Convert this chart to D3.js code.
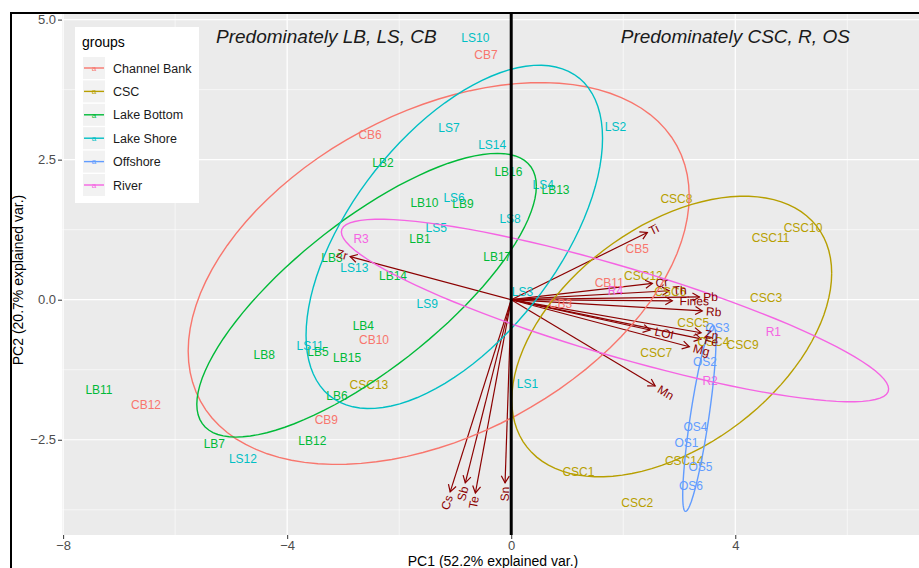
<!DOCTYPE html>
<html>
<head>
<meta charset="utf-8">
<script src="https://cdn.jsdelivr.net/npm/d3@7"></script>
<style>
	body { margin: 0; background: #fff; }
	text { font-family: "Liberation Sans", Arial, sans-serif; }
</style>
</head>
<body>
<div id="chart"></div>
<script>
//Groups and their colours (ggplot hue palette)
var groupNames = ["Channel Bank", "CSC", "Lake Bottom", "Lake Shore", "Offshore", "River"];
var groupColors = ["#F8766D", "#B79F00", "#00BA38", "#00BFC4", "#619CFF", "#F564E3"];

//Sample scores
var sampleNames = [
	"CB3", "CB5", "CB6", "CB7", "CB9", "CB10", "CB11", "CB12",
	"CSC1", "CSC2", "CSC3", "CSC4", "CSC5", "CSC6", "CSC7", "CSC8", "CSC9", "CSC10", "CSC11", "CSC12", "CSC13", "CSC14",
	"LB1", "LB2", "LB3", "LB4", "LB5", "LB6", "LB7", "LB8", "LB9", "LB10", "LB11", "LB12", "LB13", "LB14", "LB15", "LB16", "LB17",
	"LS1", "LS2", "LS3", "LS4", "LS5", "LS6", "LS7", "LS8", "LS9", "LS10", "LS11", "LS12", "LS13", "LS14",
	"OS1", "OS2", "OS3", "OS4", "OS5", "OS6",
	"R1", "R2", "R3", "R4"
];
var sampleGroup = [
	0, 0, 0, 0, 0, 0, 0, 0,
	1, 1, 1, 1, 1, 1, 1, 1, 1, 1, 1, 1, 1, 1,
	2, 2, 2, 2, 2, 2, 2, 2, 2, 2, 2, 2, 2, 2, 2, 2, 2,
	3, 3, 3, 3, 3, 3, 3, 3, 3, 3, 3, 3, 3, 3,
	4, 4, 4, 4, 4, 4,
	5, 5, 5, 5
];
var pc1 = [
	0.88, 2.25, -2.52, -0.45, -3.30, -2.45, 1.75, -6.52,
	1.20, 2.25, 4.55, 3.61, 3.25, 2.84, 2.59, 2.95, 4.13, 5.21, 4.63, 2.36, -2.54, 3.09,
	-1.63, -2.29, -3.20, -2.64, -3.45, -3.11, -5.30, -4.41, -0.86, -1.55, -7.36, -3.55, 0.79, -2.11, -2.93, -0.05, -0.25,
	0.29, 1.86, 0.20, 0.57, -1.34, -1.02, -1.11, -0.02, -1.50, -0.64, -3.59, -4.79, -2.80, -0.34,
	3.13, 3.46, 3.68, 3.29, 3.38, 3.21,
	4.68, 3.55, -2.68, 1.86
];
var pc2 = [
	-0.07, 0.91, 2.95, 4.38, -2.14, -0.71, 0.30, -1.88,
	-3.07, -3.63, 0.04, -0.75, -0.41, 0.14, -0.95, 1.80, -0.80, 1.29, 1.11, 0.43, -1.52, -2.88,
	1.09, 2.45, 0.75, -0.46, -0.93, -1.71, -2.57, -0.98, 1.71, 1.73, -1.61, -2.52, 1.96, 0.43, -1.04, 2.29, 0.77,
	-1.50, 3.09, 0.14, 2.05, 1.29, 1.82, 3.07, 1.45, -0.07, 4.68, -0.82, -2.84, 0.57, 2.77,
	-2.55, -1.11, -0.50, -2.27, -2.98, -3.32,
	-0.57, -1.45, 1.09, 0.16
];

//Variable loadings (arrow tips)
var varNames = ["Zr", "Ti", "Cr", "Th", "Pb", "Fines", "Rb", "Zn", "Fe", "Mg", "LOI", "Mn", "Cs", "Sb", "Te", "Sn"];
var varPC1 = [-2.875, 2.43, 2.52, 2.82, 3.36, 2.875, 3.41, 3.39, 3.39, 3.18, 2.48, 2.57, -1.09, -0.82, -0.64, -0.11];
var varPC2 = [0.77, 1.20, 0.29, 0.16, 0.05, -0.02, -0.20, -0.59, -0.70, -0.84, -0.54, -1.54, -3.43, -3.27, -3.45, -3.27];

//Axis ticks
var xTicks = [-8, -4, 0, 4];
var xMinor = [-6, -2, 2, 6];
var yTicks = [-2.5, 0, 2.5, 5];
var yMinor = [-3.75, -1.25, 1.25, 3.75];

var xTitle = "PC1 (52.2% explained var.)";
var yTitle = "PC2 (20.7% explained var.)";
var noteText = ["Predominately LB, LS, CB", "Predominately CSC, R, OS"];
var noteX = [-3.3, 4.0];
var noteY = [4.7, 4.7];

(function () {
	//Width and height
	var w = 919;
	var h = 568;
	var pLeft = 62, pTop = 14, pRight = 919, pBottom = 535;

	var xScale = d3.scaleLinear().domain([-8.02, 7.28]).range([pLeft, pRight]);
	var yScale = d3.scaleLinear().domain([-4.2, 5.1]).range([pBottom, pTop]);

	var svg = d3.select("#chart")
		.append("svg")
		.attr("width", w)
		.attr("height", h);

	//Outer frame
	svg.append("rect")
		.attr("x", 11).attr("y", 13)
		.attr("width", 1000).attr("height", 1000)
		.attr("fill", "none")
		.attr("stroke", "#000")
		.attr("stroke-width", 2);

	//Panel background
	svg.append("rect")
		.attr("x", pLeft).attr("y", pTop)
		.attr("width", pRight - pLeft).attr("height", pBottom - pTop)
		.attr("fill", "#EBEBEB");

	var grid = svg.append("g");
	grid.selectAll(".xminor").data(xMinor).enter().append("line")
		.attr("x1", function (d) { return xScale(d); })
		.attr("x2", function (d) { return xScale(d); })
		.attr("y1", pTop).attr("y2", pBottom)
		.attr("stroke", "#fff").attr("stroke-width", 0.6);
	grid.selectAll(".yminor").data(yMinor).enter().append("line")
		.attr("y1", function (d) { return yScale(d); })
		.attr("y2", function (d) { return yScale(d); })
		.attr("x1", pLeft).attr("x2", pRight)
		.attr("stroke", "#fff").attr("stroke-width", 0.6);
	grid.selectAll(".xmajor").data(xTicks).enter().append("line")
		.attr("x1", function (d) { return xScale(d); })
		.attr("x2", function (d) { return xScale(d); })
		.attr("y1", pTop).attr("y2", pBottom)
		.attr("stroke", "#fff").attr("stroke-width", 1.2);
	grid.selectAll(".ymajor").data(yTicks).enter().append("line")
		.attr("y1", function (d) { return yScale(d); })
		.attr("y2", function (d) { return yScale(d); })
		.attr("x1", pLeft).attr("x2", pRight)
		.attr("stroke", "#fff").attr("stroke-width", 1.2);

	//Axes
	var xAxis = svg.append("g")
		.attr("transform", "translate(0," + pBottom + ")")
		.call(d3.axisBottom(xScale).tickValues(xTicks).tickSize(4).tickPadding(2).tickFormat(d3.format("d")));
	var yAxis = svg.append("g")
		.attr("transform", "translate(" + pLeft + ",0)")
		.call(d3.axisLeft(yScale).tickValues(yTicks).tickSize(4).tickPadding(2).tickFormat(d3.format(".1f")));
	[xAxis, yAxis].forEach(function (a) {
		a.select(".domain").remove();
		a.selectAll(".tick line").attr("stroke", "#333");
		a.selectAll(".tick text")
			.attr("fill", "#4D4D4D")
			.attr("font-size", "13px")
			.attr("font-family", "Liberation Sans, Arial, sans-serif");
	});

	//Variable arrows
	var arrows = svg.append("g");
	varNames.forEach(function (name, i) {
		var x0 = xScale(0), y0 = yScale(0);
		var x1 = xScale(varPC1[i]), y1 = yScale(varPC2[i]);
		var a = Math.atan2(y1 - y0, x1 - x0);
		var len = 8, spread = Math.PI / 6;
		arrows.append("line")
			.attr("x1", x0).attr("y1", y0)
			.attr("x2", x1).attr("y2", y1)
			.attr("stroke", "#8B0000").attr("stroke-width", 1.2);
		arrows.append("path")
			.attr("d", "M" + (x1 - len * Math.cos(a - spread)) + "," + (y1 - len * Math.sin(a - spread)) +
				"L" + x1 + "," + y1 +
				"L" + (x1 - len * Math.cos(a + spread)) + "," + (y1 - len * Math.sin(a + spread)))
			.attr("fill", "none")
			.attr("stroke", "#8B0000").attr("stroke-width", 1.2);
	});

	//Sample labels
	svg.append("g").selectAll("text")
		.data(sampleNames)
		.enter()
		.append("text")
		.text(function (d) { return d; })
		.attr("x", function (d, i) { return xScale(pc1[i]); })
		.attr("y", function (d, i) { return yScale(pc2[i]); })
		.attr("dy", "0.36em")
		.attr("text-anchor", "middle")
		.attr("font-size", "12px")
		.attr("fill", function (d, i) { return groupColors[sampleGroup[i]]; });

	//Normal data ellipses, 68% (as ggbiplot does)
	var ed = Math.sqrt(-2 * Math.log(1 - 0.68));
	var circle = d3.range(101).map(function (k) { return 2 * Math.PI * k / 100; });
	var line = d3.line()
		.x(function (d) { return xScale(d[0]); })
		.y(function (d) { return yScale(d[1]); });

	groupNames.forEach(function (g, gi) {
		var xs = [], ys = [];
		sampleGroup.forEach(function (s, i) {
			if (s === gi) { xs.push(pc1[i]); ys.push(pc2[i]); }
		});
		var n = xs.length;
		var mx = d3.mean(xs), my = d3.mean(ys);
		var sxx = 0, syy = 0, sxy = 0;
		for (var i = 0; i < n; i++) {
			sxx += (xs[i] - mx) * (xs[i] - mx);
			syy += (ys[i] - my) * (ys[i] - my);
			sxy += (xs[i] - mx) * (ys[i] - my);
		}
		sxx /= n - 1; syy /= n - 1; sxy /= n - 1;
		//Cholesky factor
		var r11 = Math.sqrt(sxx), r12 = sxy / r11, r22 = Math.sqrt(syy - r12 * r12);
		var pts = circle.map(function (t) {
			var c = Math.cos(t), s = Math.sin(t);
			return [mx + ed * c * r11, my + ed * (c * r12 + s * r22)];
		});
		svg.append("path")
			.attr("d", line(pts))
			.attr("fill", "none")
			.attr("stroke", groupColors[gi])
			.attr("stroke-width", 1.4);
	});

	//Variable labels, rotated along the arrows
	var varLabels = svg.append("g");
	varNames.forEach(function (name, i) {
		var angle = Math.atan(varPC2[i] / varPC1[i]) * 180 / Math.PI;
		var t = varLabels.append("text")
			.attr("transform", "translate(" + xScale(varPC1[i]) + "," + yScale(varPC2[i]) + ") rotate(" + (-angle) + ")")
			.attr("dy", "0.36em")
			.attr("font-size", "12px")
			.attr("fill", "#8B0000")
			.text(name);
		var tw = t.node().getComputedTextLength();
		if (varPC1[i] > 0) {
			t.attr("text-anchor", "start").attr("dx", 0.25 * tw);
		} else {
			t.attr("text-anchor", "end").attr("dx", -0.25 * tw);
		}
	});

	//Vertical line at PC1 = 0
	svg.append("line")
		.attr("x1", xScale(0)).attr("x2", xScale(0))
		.attr("y1", pTop).attr("y2", pBottom)
		.attr("stroke", "#000").attr("stroke-width", 3);

	//Annotations
	svg.selectAll(".note")
		.data(noteText)
		.enter()
		.append("text")
		.text(function (d) { return d; })
		.attr("x", function (d, i) { return xScale(noteX[i]); })
		.attr("y", function (d, i) { return yScale(noteY[i]); })
		.attr("dy", "0.36em")
		.attr("text-anchor", "middle")
		.attr("font-size", "19px")
		.attr("font-style", "italic")
		.attr("fill", "#1a1a1a");

	//Axis titles
	svg.append("text")
		.attr("x", 493).attr("y", 566)
		.attr("text-anchor", "middle")
		.attr("font-size", "14px")
		.text(xTitle);
	svg.append("text")
		.attr("text-anchor", "middle")
		.attr("transform", "translate(23,280)rotate(-90)")
		.attr("font-size", "14px")
		.text(yTitle);

	//Legend
	var legend = svg.append("g").attr("transform", "translate(75,27)");
	legend.append("rect")
		.attr("width", 124).attr("height", 176)
		.attr("fill", "#fff");
	legend.append("text")
		.attr("x", 7).attr("y", 20)
		.attr("font-size", "14px")
		.text("groups");
	var items = legend.selectAll(".item")
		.data(groupNames)
		.enter()
		.append("g")
		.attr("transform", function (d, i) { return "translate(0," + (41 + i * 23.4) + ")"; });
	items.append("rect")
		.attr("x", 8).attr("y", -11)
		.attr("width", 22).attr("height", 22)
		.attr("fill", "#F2F2F2");
	items.append("line")
		.attr("x1", 9).attr("x2", 29)
		.attr("stroke", function (d, i) { return groupColors[i]; })
		.attr("stroke-width", 1.4);
	items.append("text")
		.attr("x", 19).attr("dy", "0.36em")
		.attr("text-anchor", "middle")
		.attr("font-size", "8px")
		.attr("fill", function (d, i) { return groupColors[i]; })
		.text("a");
	items.append("text")
		.attr("x", 38).attr("dy", "0.36em")
		.attr("font-size", "12.5px")
		.attr("fill", "#1a1a1a")
		.text(function (d) { return d; });
})();
</script>
</body>
</html>
